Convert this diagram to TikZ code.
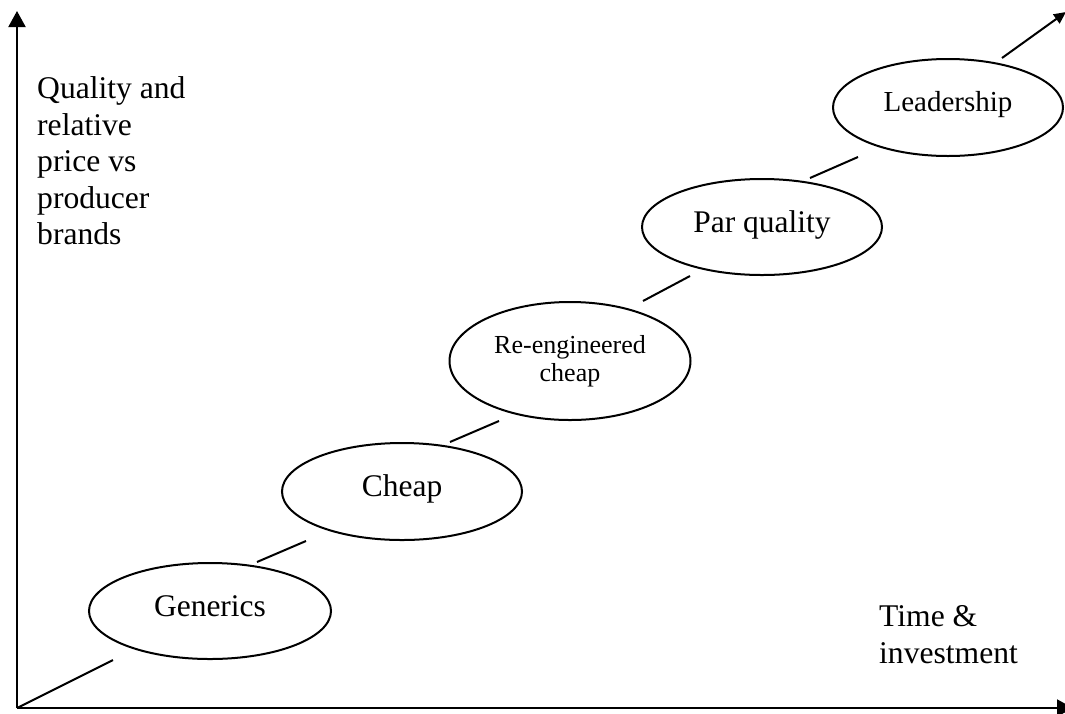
\documentclass[tikz,border=0pt]{standalone}
\usepackage{fontspec}
\setmainfont{Liberation Serif}
\usetikzlibrary{arrows.meta,shapes.geometric,calc}
\begin{document}
\begin{tikzpicture}[x=1pt,y=-1pt,
  stage/.style={draw, ellipse, line width=2pt, inner sep=0pt, align=center},
  big/.style={font=\fontsize{31.5}{36}\selectfont, text height=22pt, text depth=12pt},
  link/.style={line width=2pt},
  axis/.style={line width=2pt, -{Triangle[length=16pt,width=17pt]}},
  lbl/.style={align=left, inner sep=0pt, font=\fontsize{31.6}{36.5}\selectfont}]
\useasboundingbox (0,0) rectangle (1065,713);
\coordinate (O) at (17,708);
\coordinate (ytip) at (17,11);
\coordinate (xtip) at (1073,708);
\coordinate (dtip) at (1066,12);
\draw[axis] (O) -- (ytip);
\draw[axis] (O) -- (xtip);
\node[stage, big, minimum width=242pt, minimum height=96pt] (gen) at (210,611) {Generics};
\node[stage, big, minimum width=240pt, minimum height=97pt] (cheap) at (402,491.5) {Cheap};
\node[stage, font=\fontsize{26}{28.5}\selectfont, minimum width=241pt, minimum height=118pt] (re) at (570,361) {Re-engineered\\cheap};
\node[stage, big, minimum width=240pt, minimum height=96pt] (par) at (762,227) {Par quality};
\node[stage, font=\fontsize{29}{33}\selectfont, text height=20pt, text depth=13pt, minimum width=230pt, minimum height=97pt] (lead) at (948,107.5) {Leadership};
\draw[link] (O) -- ($(gen.south)+(-97,0)$);
\draw[link] ($(gen.north)+(47,0)$) -- ($(cheap.south)+(-96,0)$);
\draw[link] ($(cheap.north)+(48,0)$) -- ($(re.south)+(-71,0)$);
\draw[link] ($(re.north)+(73,0)$) -- ($(par.south)+(-72,0)$);
\draw[link] ($(par.north)+(48,0)$) -- ($(lead.south)+(-90,0)$);
\draw[link, -{Triangle[length=12pt,width=11pt]}] ($(lead.north)+(54,0)$) -- (dtip);
\node[lbl, anchor=north west] (ylab) at (37,76.5) {Quality and\\relative\\price vs\\producer\\brands};
\node[lbl, anchor=north west] (xlab) at (879,605.5) {Time \&\\investment};
\end{tikzpicture}
\end{document}
